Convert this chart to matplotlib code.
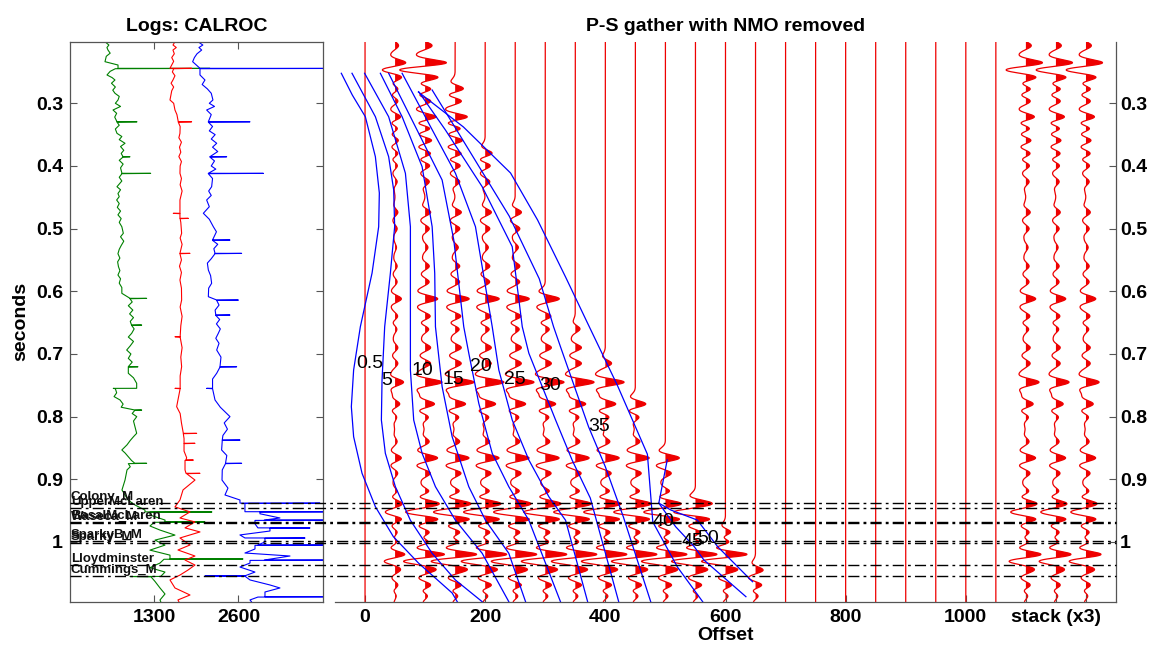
import numpy as np
import matplotlib
matplotlib.use("Agg")
import matplotlib.pyplot as plt
import matplotlib.transforms as mtransforms
from matplotlib.lines import Line2D

plt.rcParams['font.family'] = ['Liberation Sans', 'DejaVu Sans']

# ---------------- well logs: (time s, value) ----------------
green_log = [
    (0.2017, 540), (0.207, 600), (0.211, 570), (0.215, 586), (0.220, 620), (0.225, 560),
    (0.2336, 540), (0.2389, 741), (0.2442, 741), (0.2443, 2160), (0.2448, 700), (0.249, 620),
    (0.2548, 571), (0.259, 650), (0.2628, 694), (0.268, 640), (0.274, 700), (0.279, 660),
    (0.284, 694), (0.289, 760), (0.2947, 741), (0.300, 700), (0.305, 780), (0.3107, 664),
    (0.316, 720), (0.322, 690), (0.3294, 725), (0.3295, 1034), (0.3300, 725), (0.335, 760),
    (0.341, 700), (0.3479, 725), (0.353, 800), (0.358, 760), (0.3638, 849), (0.369, 780),
    (0.375, 830), (0.380, 790), (0.3852, 818), (0.3853, 926), (0.3858, 818), (0.391, 760),
    (0.397, 820), (0.403, 780), (0.4117, 802), (0.4118, 1245), (0.4123, 802), (0.418, 760),
    (0.424, 800), (0.4331, 725), (0.438, 780), (0.444, 740), (0.449, 760), (0.4543, 720),
    (0.460, 760), (0.466, 730), (0.472, 780), (0.478, 740), (0.484, 790), (0.490, 760),
    (0.497, 800), (0.5074, 823), (0.513, 780), (0.520, 830), (0.527, 790), (0.533, 760),
    (0.540, 740), (0.547, 770), (0.553, 735), (0.5607, 748), (0.567, 770), (0.574, 740),
    (0.580, 780), (0.587, 760), (0.594, 800), (0.6032, 800), (0.6112, 926), (0.6113, 1183),
    (0.6118, 926), (0.617, 960), (0.623, 900), (0.630, 970), (0.636, 920), (0.642, 980),
    (0.648, 930), (0.6538, 950), (0.6539, 1106), (0.6544, 952), (0.660, 990), (0.667, 952),
    (0.673, 900), (0.680, 980), (0.687, 930), (0.6937, 875), (0.700, 940), (0.707, 900),
    (0.713, 960), (0.7203, 900), (0.7204, 1049), (0.7209, 900), (0.7308, 900), (0.738, 980),
    (0.7468, 1029), (0.7548, 1029), (0.7549, 668), (0.7554, 700), (0.762, 720), (0.768, 680),
    (0.7734, 772), (0.780, 820), (0.785, 790), (0.7894, 1000), (0.7895, 1106), (0.7900, 1000),
    (0.795, 960), (0.800, 1030), (0.807, 980), (0.816, 1003), (0.8266, 1029), (0.832, 980),
    (0.838, 930), (0.845, 880), (0.8532, 800), (0.858, 850), (0.864, 900), (0.870, 950),
    (0.8744, 1000), (0.8745, 1183), (0.8750, 900), (0.880, 930), (0.885, 880), (0.9012, 849),
    (0.917, 802), (0.933, 895), (0.941, 1003), (0.949, 1157), (0.952, 1157), (0.9521, 2190),
    (0.9526, 1234), (0.957, 1234), (0.965, 1466), (0.968, 1466), (0.9681, 2083), (0.9686, 1300),
    (0.9745, 1234), (0.981, 1389), (0.989, 1620), (0.997, 1312), (1.005, 1466), (1.013, 1234),
    (1.021, 1543), (1.027, 1543), (1.0271, 2670), (1.0276, 1450), (1.0336, 1389), (1.041, 1234),
    (1.048, 1466), (1.055, 1400), (1.0551, 926), (1.0556, 1250), (1.063, 1312), (1.0734, 1389),
    (1.083, 1466), (1.0925, 1389), (1.0953, 1400),
]

red_log = [
    (0.2017, 1620), (0.207, 1590), (0.211, 1640), (0.215, 1589), (0.221, 1610), (0.227, 1570),
    (0.233, 1600), (0.2441, 1543), (0.2442, 1877), (0.2447, 1600), (0.250, 1580), (0.256, 1620),
    (0.2628, 1589), (0.268, 1560), (0.274, 1600), (0.280, 1570), (0.2947, 1543), (0.300, 1600),
    (0.3107, 1620), (0.318, 1650), (0.3294, 1671), (0.3295, 1877), (0.3300, 1671), (0.337, 1700),
    (0.3479, 1697), (0.355, 1680), (0.362, 1720), (0.370, 1690), (0.378, 1710), (0.385, 1680),
    (0.393, 1720), (0.400, 1700), (0.4117, 1697), (0.420, 1720), (0.430, 1700), (0.440, 1730),
    (0.4543, 1697), (0.4755, 1697), (0.4756, 1594), (0.4761, 1697), (0.4835, 1697), (0.4836, 1826),
    (0.4841, 1700), (0.490, 1710), (0.5074, 1723), (0.515, 1700), (0.525, 1730), (0.5394, 1697),
    (0.5395, 1852), (0.5400, 1697), (0.550, 1720), (0.560, 1690), (0.570, 1720), (0.582, 1697),
    (0.595, 1720), (0.6139, 1723), (0.625, 1700), (0.640, 1730), (0.655, 1710), (0.6724, 1700),
    (0.6725, 1620), (0.6730, 1700), (0.690, 1730), (0.705, 1710), (0.7203, 1723), (0.735, 1700),
    (0.7548, 1700), (0.7549, 1620), (0.7554, 1700), (0.7841, 1646), (0.795, 1700), (0.810, 1720),
    (0.8266, 1749), (0.8267, 1955), (0.8272, 1749), (0.835, 1760), (0.8425, 1760), (0.8426, 1929),
    (0.8431, 1760), (0.855, 1760), (0.8654, 1800), (0.8692, 1790), (0.8693, 1903), (0.8698, 1775),
    (0.885, 1775), (0.8904, 1790), (0.8905, 2006), (0.8910, 1800), (0.9012, 1929), (0.917, 1744),
    (0.933, 1697), (0.944, 1620), (0.952, 1852), (0.9617, 1697), (0.968, 1929), (0.9775, 1775),
    (0.984, 2006), (0.9936, 1697), (1.0048, 1852), (1.0128, 1666), (1.0224, 1929), (1.0288, 1775),
    (1.0368, 1929), (1.0448, 1821), (1.0528, 1697), (1.0606, 1543), (1.0734, 1620), (1.0846, 1852),
    (1.0925, 1666), (1.0953, 1680),
]

blue_log = [
    (0.2017, 1975), (0.207, 2050), (0.211, 1990), (0.215, 2032), (0.221, 1960), (0.227, 1920),
    (0.2336, 1893), (0.2442, 2006), (0.2443, 4500), (0.2448, 2006), (0.2548, 2006), (0.2628, 2083),
    (0.270, 2040), (0.277, 2120), (0.284, 2180), (0.2947, 2206), (0.300, 2150), (0.305, 2230),
    (0.3107, 2109), (0.318, 2180), (0.3294, 2135), (0.3295, 2778), (0.3300, 2135), (0.337, 2200),
    (0.344, 2150), (0.350, 2240), (0.357, 2180), (0.3638, 2264), (0.370, 2200), (0.377, 2280),
    (0.3852, 2160), (0.3853, 2418), (0.3858, 2160), (0.392, 2230), (0.400, 2180), (0.405, 2250),
    (0.4117, 2135), (0.4118, 2984), (0.4123, 2135), (0.420, 2200), (0.4331, 2186), (0.440, 2140),
    (0.447, 2180), (0.4543, 2109), (0.465, 2150), (0.4755, 2058), (0.485, 2150), (0.4969, 2212),
    (0.505, 2260), (0.5181, 2200), (0.5182, 2469), (0.5187, 2200), (0.525, 2280), (0.532, 2220),
    (0.5394, 2238), (0.5395, 2649), (0.5400, 2238), (0.548, 2180), (0.555, 2120), (0.566, 2135),
    (0.575, 2170), (0.5872, 2186), (0.595, 2140), (0.6086, 2135), (0.6139, 2264), (0.6140, 2598),
    (0.6145, 2264), (0.622, 2300), (0.630, 2240), (0.6378, 2250), (0.6379, 2469), (0.6384, 2250),
    (0.645, 2310), (0.652, 2260), (0.660, 2320), (0.667, 2289), (0.675, 2250), (0.683, 2300),
    (0.6937, 2264), (0.705, 2330), (0.7203, 2315), (0.7204, 2572), (0.7209, 2315), (0.7308, 2264),
    (0.740, 2200), (0.7548, 2200), (0.7549, 2109), (0.7554, 2200), (0.7734, 2238), (0.785, 2320),
    (0.800, 2469), (0.810, 2380), (0.820, 2430), (0.830, 2360), (0.8373, 2350), (0.8374, 2624),
    (0.8379, 2350), (0.8532, 2340), (0.862, 2420), (0.8744, 2400), (0.8745, 2649), (0.8750, 2400),
    (0.885, 2350), (0.9012, 2346), (0.914, 2438), (0.925, 2392), (0.933, 2623), (0.938, 2623),
    (0.9381, 3858), (0.9386, 2700), (0.9425, 2700), (0.9517, 2700), (0.9518, 4500), (0.9523, 2932),
    (0.955, 2932), (0.9617, 3240), (0.965, 3000), (0.9651, 4500), (0.9656, 2855), (0.971, 2855),
    (0.9775, 2900), (0.9776, 3704), (0.9781, 3086), (0.9825, 3086), (0.9888, 2623), (0.9936, 2700),
    (0.9937, 3627), (0.9942, 3009), (1.0, 3009), (1.0048, 2900), (1.0049, 4500), (1.0054, 2855),
    (1.0112, 2855), (1.0176, 2700), (1.0224, 3395), (1.0288, 3000), (1.0289, 4500), (1.0294, 2778),
    (1.0336, 2778), (1.04, 2623), (1.048, 2855), (1.054, 2700), (1.0541, 2083), (1.0546, 2700),
    (1.0606, 2778), (1.0686, 3086), (1.0734, 3240), (1.0798, 3009), (1.0873, 3009), (1.0874, 4500),
    (1.0879, 2900), (1.0925, 2778), (1.0953, 2800),
]

# ---------------- formation tops ----------------
top_names = ['Colony_M', 'UpperMcLaren', 'BasalMcLaren', 'Waseca_M',
             'SparkyB_M', 'Sparky_M', 'Lloydminster', 'Cummings_M']
top_times = [0.938, 0.946, 0.968, 0.970, 0.998, 1.001, 1.036, 1.055]

# ---------------- seismic gather ----------------
offsets = [0, 50, 100, 150, 200, 250, 300, 350, 400, 450, 500, 550, 600, 650,
           700, 750, 800, 850, 900, 950, 1000, 1050]
mute_times = [9.9, 0.2, 0.2, 0.279, 0.369, 0.449, 0.603, 0.65, 0.71, 0.779, 0.859,
              0.936, 0.986, 1.045, 9.9, 9.9, 9.9, 9.9, 9.9, 9.9, 9.9, 9.9]
trace_gain = [0.0, 0.45, 0.9, 1.0, 1.0, 1.0, 1.0, 1.0, 1.0, 1.0, 1.0,
              1.0, 1.0, 1.0, 0, 0, 0, 0, 0, 0, 0, 0]
stack_offsets = [1100, 1150, 1200]
stack_gain = 0.7

event_t = [0.208, 0.236, 0.246, 0.259, 0.277, 0.296, 0.322, 0.340, 0.359, 0.380, 0.399,
           0.425, 0.474, 0.50, 0.53, 0.56, 0.585, 0.612, 0.64, 0.66, 0.69, 0.715,
           0.745, 0.78, 0.80, 0.84, 0.866, 0.89, 0.92, 0.938, 0.954, 0.962, 0.985,
           1.0, 1.021, 1.029, 1.045, 1.069, 1.085]
event_a = [0.5, 1.1, -1.1, 0.6, 0.6, 0.5, 0.9, 0.6, 0.6, 0.5, 0.4,
           0.3, 0.4, 0.3, 0.2, 0.3, 0.3, 0.9, 0.4, 0.3, 0.4, 0.4,
           1.2, 0.7, 0.3, 0.3, 0.9, 0.4, 0.4, 0.8, -0.9, 0.7, 0.5,
           0.5, 1.2, -1.0, 0.5, 0.5, 0.3]

# ---------------- incidence-angle contours (offset, time) ----------------
angle_labels = ['0.5', '5', '10', '15', '20', '25', '30', '35', '40', '45', '50']
label_x = [-15, 27, 77, 129, 175, 231, 290, 372, 478, 527, 553]
label_t = [0.715, 0.742, 0.727, 0.740, 0.720, 0.740, 0.750, 0.816, 0.968, 1.000, 0.995]
angle_x = [
    [-39.5, -21.2, 0.5, 17.2, 23.8, 22.7, 11.7, -7.8, -19.0, -22.8, -19.0, -5.0, 17.2, 47.2, 88.8, 145, 153.8],
    [-21.7, 17.2, 39.3, 47.7, 49.3, 42.2, 32.7, 28.3, 27.2, 33.8, 50.5, 75.5, 111.7, 150.5, 195],
    [-0.7, 39.3, 67.2, 75.5, 75.5, 75.5, 81, 95, 117.2, 150.5, 195, 239.3],
    [25.5, 61.7, 95, 111.7, 116, 117.2, 128.3, 145, 172.7, 200.5, 239.3, 267.2],
    [39.3, 83.8, 128.3, 147.7, 164.3, 172.7, 189.3, 211.7, 239.3, 272.7, 325.5],
    [61.7, 106, 150.5, 183.8, 211.7, 222.7, 245, 272.7, 306, 333.8, 370.5],
    [89.3, 133.8, 195, 245, 261.7, 272.7, 295, 317.2, 345, 375, 422.2],
    [111.7, 170, 240, 290, 313.8, 325.5, 372, 400, 430, 475.5],
    [88.8, 163.8, 242.2, 287.2, 333.8, 370, 420, 470, 479, 520, 562],
    [503, 489, 509, 553, 587, 645],
    [489, 517, 548, 564, 634],
]
angle_t = [
    [0.2521, 0.2868, 0.3214, 0.3852, 0.4431, 0.4969, 0.5708, 0.6565, 0.7256, 0.7841, 0.8320, 0.8904, 0.9437, 0.9916, 1.0335, 1.0814, 1.0958],
    [0.2521, 0.3214, 0.3852, 0.4383, 0.4969, 0.5708, 0.6565, 0.7415, 0.8054, 0.8585, 0.9118, 0.9654, 1.0181, 1.0607, 1.0953],
    [0.2521, 0.3214, 0.4117, 0.4969, 0.6565, 0.7256, 0.8054, 0.8585, 0.9118, 0.9654, 1.0181, 1.0953],
    [0.2521, 0.3214, 0.4012, 0.4969, 0.5713, 0.6565, 0.7522, 0.8320, 0.9118, 0.9654, 1.0181, 1.0953],
    [0.2521, 0.3373, 0.4224, 0.5181, 0.6565, 0.6989, 0.7787, 0.8585, 0.9118, 0.9654, 1.0958],
    [0.2521, 0.3319, 0.4117, 0.4969, 0.6565, 0.7256, 0.8054, 0.8692, 0.9278, 0.9654, 1.0953],
    [0.2815, 0.3426, 0.4331, 0.5288, 0.6565, 0.6989, 0.7522, 0.8054, 0.87, 0.93, 1.0953],
    [0.2788, 0.37, 0.48, 0.58, 0.6565, 0.689, 0.816, 0.88, 0.96, 1.0953],
    [0.282, 0.3378, 0.4112, 0.4862, 0.5772, 0.65, 0.75, 0.86, 0.968, 1.04, 1.0953],
    [0.869, 0.938, 0.949, 0.965, 1.0075, 1.0634],
    [0.938, 0.9756, 1.0075, 1.0287, 1.0873],
]

T0, T1 = 0.2017, 1.0953
W, H = 1151, 648
FS = 14


def ricker(t, f=32.0):
    a = (np.pi * f * t) ** 2
    return (1 - 2 * a) * np.exp(-a)


tt = np.arange(T0, T1 + 0.0005, 0.0005)
ev_t = np.array(event_t)
ev_a = np.array(event_a)


def make_trace(mute):
    keep = ev_t >= mute - 0.004
    tr = np.zeros_like(tt)
    for t0, a in zip(ev_t[keep], ev_a[keep]):
        tr += a * ricker(tt - t0)
    return tr


def wiggle(ax, x0, tr, scale):
    xs = x0 + tr * scale
    ax.fill_betweenx(tt, x0, xs, where=tr > 0, color='#ee0000', lw=0, interpolate=True)
    ax.plot(xs, tt, color='#ee0000', lw=0.9)


fig = plt.figure(figsize=(W / 100, H / 100), dpi=100)
bot = (H - 601.7) / H
hgt = 560.0 / H
ax_log = fig.add_axes([70 / W, bot, 252.7 / W, hgt])
ax_g = fig.add_axes([335 / W, bot, 781 / W, hgt])

tick_kw = dict(direction='in', length=5, width=0.8, color='#555555', labelsize=FS, pad=5)

# ---- log panel ----
for log, col in ((green_log, 'green'), (red_log, 'red'), (blue_log, 'blue')):
    lt, lv = zip(*log)
    ax_log.plot(lv, lt, color=col, lw=0.8)
ax_log.set_xlim(0, 3900)
ax_log.set_ylim(T1, T0)
ax_log.set_xticks([1300, 2600])
ax_log.set_yticks([0.3, 0.4, 0.5, 0.6, 0.7, 0.8, 0.9, 1.0])
ax_log.set_yticklabels(['0.3', '0.4', '0.5', '0.6', '0.7', '0.8', '0.9', '1'])
ax_log.tick_params(axis='both', which='both', top=True, right=True, **tick_kw)
for lab in ax_log.get_xticklabels() + ax_log.get_yticklabels():
    lab.set_fontweight('bold')
for s in ax_log.spines.values():
    s.set_color('#555555')
    s.set_linewidth(0.9)
ax_log.set_title('Logs: CALROC', fontsize=FS, fontweight='bold', pad=8)
ax_log.set_ylabel('seconds', fontsize=FS, fontweight='bold', labelpad=5)

for name, tm in zip(top_names, top_times):
    ax_log.text(15, tm, name, fontsize=9.5, fontweight='bold', color='#111111',
                ha='left', va='bottom', clip_on=False)

# ---- gather panel ----
for off, mt, g in zip(offsets, mute_times, trace_gain):
    tr = make_trace(mt) * g
    wiggle(ax_g, off, tr, 26.0)

stack = make_trace(0.0) * stack_gain
for off in stack_offsets:
    wiggle(ax_g, off, stack, 26.0)

for xs, ts in zip(angle_x, angle_t):
    ax_g.plot(xs, ts, color='blue', lw=0.9)
for lab, xl, tl in zip(angle_labels, label_x, label_t):
    ax_g.text(xl, tl, lab, fontsize=FS, ha='left', va='center', color='black')

ax_g.set_xlim(-50, 1250)
ax_g.set_ylim(T1, T0)
ax_g.set_xticks([0, 200, 400, 600, 800, 1000, 1100, 1150, 1200])
ax_g.set_xticklabels(['0', '200', '400', '600', '800', '1000', '', 'stack (x3)', ''])
ax_g.set_yticks([0.3, 0.4, 0.5, 0.6, 0.7, 0.8, 0.9, 1.0])
ax_g.set_yticklabels(['0.3', '0.4', '0.5', '0.6', '0.7', '0.8', '0.9', '1'])
ax_g.tick_params(axis='both', which='both', left=False, labelleft=False,
                 right=True, labelright=True, **tick_kw)
ax_g.tick_params(axis='y', pad=3)
for lab in ax_g.get_xticklabels() + ax_g.get_yticklabels():
    lab.set_fontweight('bold')
for k in ('top', 'left'):
    ax_g.spines[k].set_visible(False)
for k in ('bottom', 'right'):
    ax_g.spines[k].set_color('#555555')
    ax_g.spines[k].set_linewidth(0.9)
ax_g.set_title('P-S gather with NMO removed', fontsize=FS, fontweight='bold', pad=8)
ax_g.set_xlabel('Offset', fontsize=FS, fontweight='bold', labelpad=1)

# ---- formation top lines spanning both panels ----
blend = mtransforms.blended_transform_factory(fig.transFigure, ax_log.transData)
for tm in top_times:
    fig.add_artist(Line2D([70 / W, 1116 / W], [tm, tm], transform=blend,
                          color='black', lw=1.0, linestyle=(0, (8, 3, 2, 3))))

fig.savefig('out.png', dpi=100)
